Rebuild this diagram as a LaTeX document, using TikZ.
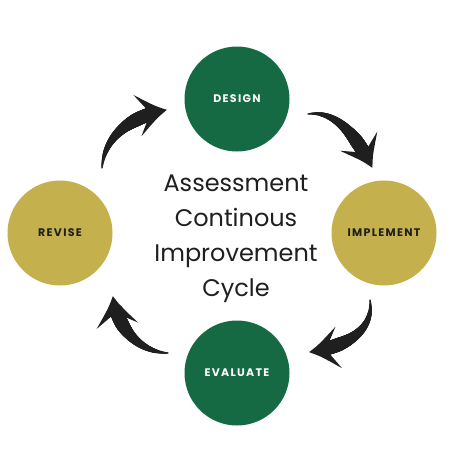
\documentclass[tikz,border=0pt]{standalone}
\usepackage{fontspec}
\setmainfont{Poppins}
\newfontfamily\stagefont{Poppins}[LetterSpace=12]
\usetikzlibrary{decorations.markings}
\definecolor{aciink}{HTML}{1F1F1F}
\definecolor{acigreen}{HTML}{156A43}
\definecolor{acigold}{HTML}{C4B04C}

\begin{document}
\begin{tikzpicture}[x=1pt, y=-1pt, text=aciink,
    stage/.style={circle, minimum size=105pt, inner sep=0pt,
      font=\stagefont\bfseries\fontsize{11}{13}\selectfont},
    greenstage/.style={stage, fill=acigreen, text=white},
    goldstage/.style={stage, fill=acigold, text=aciink},
    brush/.style={decorate, decoration={markings,
      mark=between positions 0 and 0.84 step 0.5pt with {
        \pgfmathsetmacro{\brushrad}{0.7 + 6.1*min(1, 1.5*\pgfkeysvalueof{/pgf/decoration/mark info/distance from start}/\pgfdecoratedpathlength)}
        \fill[aciink] (0,0) circle (\brushrad pt);},
      mark=at position 1 with {
        \fill[aciink] (1pt,0pt) .. controls (-10pt,6pt) .. (-29pt,21pt) -- (-16pt,0pt)
          -- (-29pt,-21pt) .. controls (-10pt,-6pt) .. (1pt,0pt) -- cycle;}}},
  ]
  \useasboundingbox (0,0) rectangle (474,474);

  % the four stages
  \node[greenstage] (design) at (237,99) {DESIGN};
  \node[goldstage] (implement) at (384,233) {IMPLEMENT};
  \node[greenstage] (evaluate) at (237,373) {EVALUATE};
  \node[goldstage] (revise) at (60,233) {REVISE};

  % title in the middle
  \node[font=\fontsize{24}{35}\selectfont, align=center, inner sep=0pt, anchor=north]
    (title) at (236,175) {Assessment\\Continous\\Improvement\\Cycle};

  % ends of the brush arrows
  \coordinate (di-tail) at (308,114);
  \coordinate (di-tip) at (372,167);
  \coordinate (ie-tail) at (370,300);
  \coordinate (ie-tip) at (310,352);
  \coordinate (er-tail) at (168,353);
  \coordinate (er-tip) at (113,297);
  \coordinate (rd-tail) at (102,168);
  \coordinate (rd-tip) at (166,110);

  % arrows round the cycle
  \path[brush] (di-tail) .. controls (336,110) and (356,136) .. (di-tip);
  \path[brush] (ie-tail) .. controls (374,330) and (348,346) .. (ie-tip);
  \path[brush] (er-tail) .. controls (140,352) and (118,330) .. (er-tip);
  \path[brush] (rd-tail) .. controls (104,140) and (125,118) .. (rd-tip);
\end{tikzpicture}
\end{document}
